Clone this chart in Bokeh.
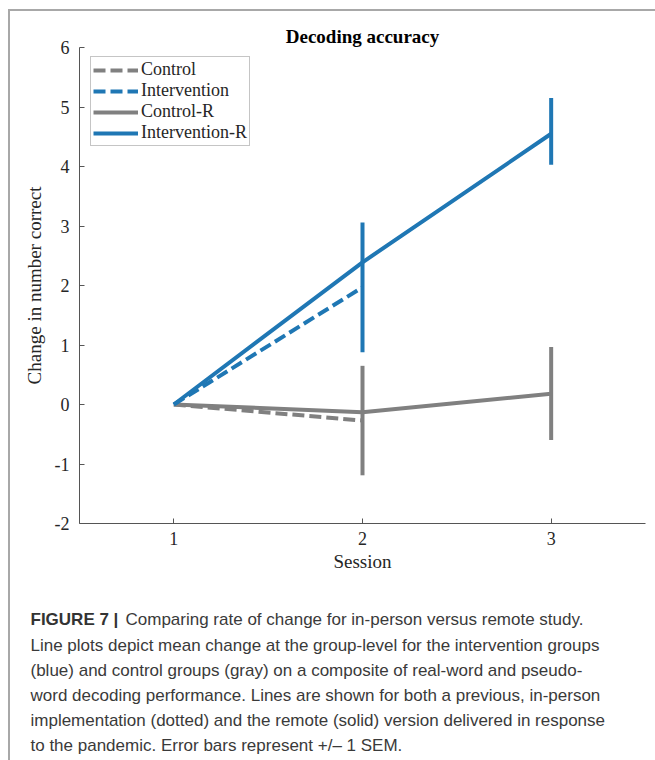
from bokeh.plotting import figure
from bokeh.models import Range1d, FixedTicker, Legend, PrintfTickFormatter, Spacer
from bokeh.layouts import column, row
from bokeh.core.properties import value
from bokeh.embed import file_html
from bokeh.resources import INLINE

# ---- data ----
sessions = [1, 2, 3]
control = [0.0, -0.27]
intervention = [0.0, 1.97]
control_r = [0.0, -0.13, 0.18]
intervention_r = [0.0, 2.39, 4.55]

# error bars (+/- 1 SEM)
err_gray_x = [2, 3]
err_gray_mean = [-0.27, 0.185]
err_gray_sem = [0.92, 0.78]
err_blue_x = [2, 3]
err_blue_mean = [1.97, 4.59]
err_blue_sem = [1.09, 0.56]

y_ticks = [-2, -1, 0, 1, 2, 3, 4, 5, 6]
x_ticks = [1, 2, 3]

title_text = "Decoding accuracy"
caption_bold = "FIGURE 7 |"
caption_lines = [
    "Comparing rate of change for in-person versus remote study.",
    "Line plots depict mean change at the group-level for the intervention groups",
    "(blue) and control groups (gray) on a composite of real-word and pseudo-",
    "word decoding performance. Lines are shown for both a previous, in-person",
    "implementation (dotted) and the remote (solid) version delivered in response",
    "to the pandemic. Error bars represent +/\u2013 1 SEM.",
]

BLUE = "#1f77b4"
GRAY = "#808080"
FRAME = "#a8a8a8"
SERIF = "Liberation Serif"
SANS = "Liberation Sans"

W = 655
PAD_TOP = 9
BORDER = 2
PAD_LEFT = 8
CHART_H = 579
CAP_H = 170
INNER_W = W - PAD_LEFT - BORDER  # 645

# ---- chart ----
p = figure(width=INNER_W, height=CHART_H, output_backend="svg", toolbar_location=None,
           x_range=Range1d(0.5, 3.5), y_range=Range1d(-2, 6),
           min_border_left=69, min_border_right=10, min_border_top=36,
           min_border_bottom=CHART_H - 36 - 476)
p.outline_line_color = None
p.grid.visible = False
p.title.text = title_text
p.title.align = "center"
p.title.text_font = SERIF
p.title.text_font_size = "19px"
p.title.text_font_style = "bold"
p.title.text_color = "black"
p.title.standoff = 2

for ax in (p.xaxis[0], p.yaxis[0]):
    ax.axis_line_color = "#555555"
    ax.major_tick_line_color = "#555555"
    ax.major_tick_in = 5
    ax.major_tick_out = 0
    ax.minor_tick_line_color = None
    ax.major_label_text_font = SERIF
    ax.major_label_text_font_size = "18px"
    ax.major_label_text_color = "#262626"
    ax.axis_label_text_font = SERIF
    ax.axis_label_text_font_size = "19px"
    ax.axis_label_text_font_style = "normal"
    ax.axis_label_text_color = "#262626"
    ax.formatter = PrintfTickFormatter(format="%d")

p.xaxis.ticker = FixedTicker(ticks=x_ticks)
p.yaxis.ticker = FixedTicker(ticks=y_ticks)
p.xaxis.axis_label = "Session"
p.yaxis.axis_label = "Change in number correct"
p.xaxis.major_label_standoff = 8
p.xaxis.axis_label_standoff = 3
p.yaxis.major_label_standoff = 10
p.yaxis.axis_label_standoff = 7

l1 = p.line(sessions[:len(control)], control, color=GRAY, line_width=4, line_dash="12 5")
l3 = p.line(sessions, control_r, color=GRAY, line_width=4)
l2 = p.line(sessions[:len(intervention)], intervention, color=BLUE, line_width=4, line_dash="12 5")
l4 = p.line(sessions, intervention_r, color=BLUE, line_width=4)

p.segment(x0=err_gray_x, x1=err_gray_x,
          y0=[m - s for m, s in zip(err_gray_mean, err_gray_sem)],
          y1=[m + s for m, s in zip(err_gray_mean, err_gray_sem)],
          color=GRAY, line_width=4)
p.segment(x0=err_blue_x, x1=err_blue_x,
          y0=[m - s for m, s in zip(err_blue_mean, err_blue_sem)],
          y1=[m + s for m, s in zip(err_blue_mean, err_blue_sem)],
          color=BLUE, line_width=4)

legend = Legend(items=[("Control", [l1]), ("Intervention", [l2]),
                       ("Control-R", [l3]), ("Intervention-R", [l4])],
                location=(11, 377))
legend.label_text_font = SERIF
legend.label_text_font_size = "18px"
legend.label_text_color = "#262626"
legend.glyph_width = 45
legend.glyph_height = 20
legend.label_height = 20
legend.spacing = 0
legend.padding = 2
legend.margin = 0
legend.label_standoff = 3
legend.border_line_color = "#8c8c8c"
legend.border_line_width = 1
legend.background_fill_alpha = 1
p.add_layout(legend, "center")

# ---- caption ----
y0 = PAD_TOP + BORDER + CHART_H
x0 = PAD_LEFT + BORDER
cap = figure(width=INNER_W, height=CAP_H, output_backend="svg", toolbar_location=None,
             x_range=Range1d(x0, W), y_range=Range1d(y0 + CAP_H, y0),
             x_axis_location=None, y_axis_location=None, min_border=0, title=None)
cap.outline_line_color = None
cap.grid.visible = False
cap_y = [619, 645, 670, 695, 720, 745]
cap_x = [125, 30, 30, 30, 30, 30]
cap.text(x=[30], y=[cap_y[0]], text=[caption_bold], text_font=value(SANS),
         text_font_size="17px", text_font_style="bold", text_color="#333333",
         text_baseline="middle", text_align="left")
cap.text(x=cap_x, y=cap_y, text=caption_lines, text_font=value(SANS),
         text_font_size="17px", text_color="#3a3a3a",
         text_baseline="middle", text_align="left")

layout = column(
    Spacer(width=W, height=PAD_TOP),
    row(Spacer(width=PAD_LEFT, height=BORDER),
        Spacer(width=W - PAD_LEFT, height=BORDER, background=FRAME)),
    row(Spacer(width=PAD_LEFT, height=CHART_H),
        Spacer(width=BORDER, height=CHART_H, background=FRAME), p),
    row(Spacer(width=PAD_LEFT, height=CAP_H),
        Spacer(width=BORDER, height=CAP_H, background=FRAME), cap),
)
open("out.html", "w").write(file_html(layout, INLINE))
